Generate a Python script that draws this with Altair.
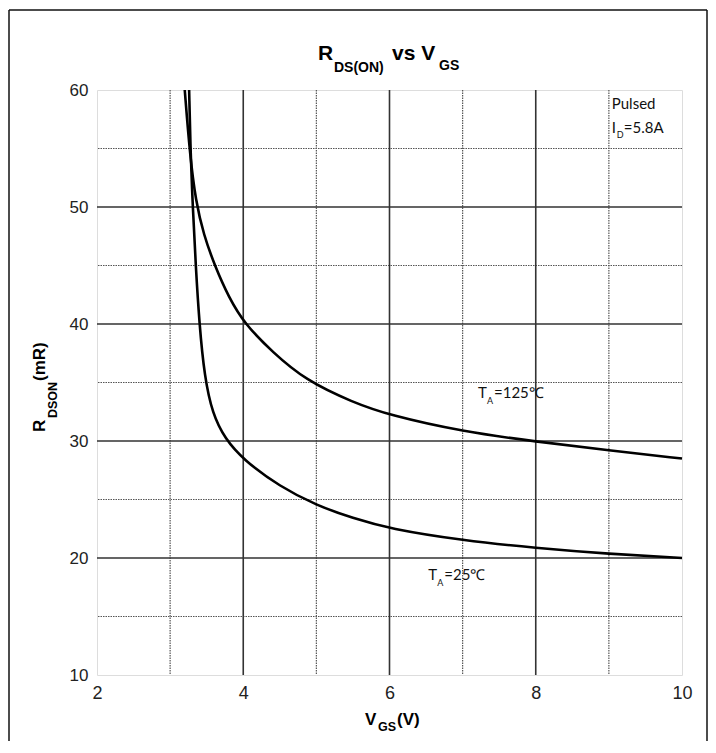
import altair as alt
import pandas as pd

# ---- data ----
vgs_25 = [3.26, 3.28, 3.31, 3.35, 3.40, 3.47, 3.58, 3.75, 4.0, 4.5, 5.0, 5.5, 6.0, 7.0, 8.0, 9.0, 10.0]
rds_25 = [60.0, 54.5, 50.0, 45.0, 40.0, 35.5, 32.3, 30.2, 28.4, 26.1, 24.5, 23.4, 22.5, 21.5, 20.85, 20.35, 20.0]

vgs_125 = [3.20, 3.27, 3.35, 3.46, 3.61, 3.80, 4.02, 4.4, 4.85, 5.5, 6.0, 7.0, 8.0, 9.0, 10.0]
rds_125 = [60.0, 54.5, 50.5, 47.6, 45.0, 42.3, 40.0, 37.6, 35.2, 33.3, 32.2, 30.8, 29.95, 29.2, 28.5]

x_ticks = [2, 4, 6, 8, 10]
y_ticks = [10, 20, 30, 40, 50, 60]
x_major_grid = [4, 6, 8]
x_minor_grid = [3, 5, 7, 9]
y_major_grid = [20, 30, 40, 50]
y_minor_grid = [15, 25, 35, 45, 55]

# annotation anchors (data coordinates)
ann_125_x, ann_125_y = 7.21, 33.68
ann_25_x, ann_25_y = 6.53, 18.12
ann_pulsed_x, ann_pulsed_y = 9.04, 58.38
ann_id_x, ann_id_y = 9.04, 56.32

W, H = 585, 585
xs = alt.Scale(domain=[2, 10], nice=False, zero=False)
ys = alt.Scale(domain=[10, 60], nice=False, zero=False)

FONT = "Liberation Sans"
ANN_FONT = "Lato"

xaxis = alt.Axis(values=x_ticks, title=None, grid=False, ticks=False, domain=False,
                 labelFontSize=18, labelFont=FONT, labelColor="#222",
                 labelPadding=9, format="d", labelFlush=False)
yaxis = alt.Axis(values=y_ticks, title=None, grid=False, ticks=False, domain=False,
                 labelFontSize=17, labelFont=FONT, labelColor="#222",
                 labelPadding=9, format="d", labelFlush=False)

curves = pd.concat([
    pd.DataFrame({"vgs": vgs_25, "rds": rds_25, "temp": "25"}),
    pd.DataFrame({"vgs": vgs_125, "rds": rds_125, "temp": "125"}),
])


def vgrid(vals, dash, width, color):
    return alt.Chart(pd.DataFrame({"v": vals})).mark_rule(strokeDash=dash, strokeWidth=width, color=color).encode(
        x=alt.X("v:Q", scale=xs, axis=xaxis))


def hgrid(vals, dash, width, color):
    return alt.Chart(pd.DataFrame({"v": vals})).mark_rule(strokeDash=dash, strokeWidth=width, color=color).encode(
        y=alt.Y("v:Q", scale=ys, axis=yaxis))


# invisible layer that carries both axes over the full domain
axes_layer = alt.Chart(pd.DataFrame({"x": [2, 10], "y": [10, 60]})).mark_point(opacity=0).encode(
    x=alt.X("x:Q", scale=xs, axis=xaxis),
    y=alt.Y("y:Q", scale=ys, axis=yaxis),
)

grid = [
    vgrid(x_minor_grid, [1.5, 1], 1.2, "#555"),
    hgrid(y_minor_grid, [1.5, 1], 1.2, "#555"),
    vgrid(x_major_grid, [1, 0], 1.6, "#333"),
    hgrid(y_major_grid, [1, 0], 1.6, "#333"),
]

lines = alt.Chart(curves).mark_line(color="black", strokeWidth=2.6, interpolate="basis").encode(
    x=alt.X("vgs:Q", scale=xs, axis=xaxis),
    y=alt.Y("rds:Q", scale=ys, axis=yaxis),
    detail="temp:N",
    order="vgs:Q",
)


def data_text(x, y, text, size, dx=0, dy=0):
    return alt.Chart(pd.DataFrame({"x": [x], "y": [y]})).mark_text(
        text=text, fontSize=size, font=ANN_FONT, color="#111", align="left", baseline="alphabetic", dx=dx, dy=dy
    ).encode(x=alt.X("x:Q", scale=xs, axis=xaxis), y=alt.Y("y:Q", scale=ys, axis=yaxis))


annotations = [
    data_text(ann_125_x, ann_125_y, "T", 15),
    data_text(ann_125_x, ann_125_y, "A", 9, dx=9, dy=6),
    data_text(ann_125_x, ann_125_y, "=125℃", 15, dx=16),
    data_text(ann_25_x, ann_25_y, "T", 15),
    data_text(ann_25_x, ann_25_y, "A", 9, dx=9, dy=6),
    data_text(ann_25_x, ann_25_y, "=25℃", 15, dx=16),
    data_text(ann_pulsed_x, ann_pulsed_y, "Pulsed", 15),
    data_text(ann_id_x, ann_id_y, "I", 15),
    data_text(ann_id_x, ann_id_y, "D", 9, dx=5, dy=5),
    data_text(ann_id_x, ann_id_y, "=5.8A", 15, dx=12),
]


def px_text(text, x, y, size, angle=0, color="black"):
    return alt.Chart(pd.DataFrame({"k": [0]})).mark_text(
        text=text, fontSize=size, font=FONT, fontWeight="bold", color=color,
        align="left", baseline="alphabetic", angle=angle
    ).encode(x=alt.value(x), y=alt.value(y))


titles = [
    # chart title  R_DS(ON) vs V_GS
    px_text("R", 221, -30, 21),
    px_text("DS(ON)", 237, -18, 14),
    px_text("vs V", 295, -30, 21),
    px_text("GS", 342, -20, 14),
    # x title  V_GS(V)
    px_text("V", 268, 635, 17),
    px_text("GS", 281, 641, 12.5),
    px_text("(V)", 300, 635, 17),
    # y title  R_DSON(mR)
    px_text("R", -52, 342, 17, angle=270),
    px_text("DSON", -40, 328, 12.5, angle=270),
    px_text("(mR)", -52, 291, 17, angle=270),
]


def frame_rule(**enc):
    return alt.Chart(pd.DataFrame({"k": [0]})).mark_rule(color="#111", strokeWidth=1.5).encode(**enc)


frame = [
    frame_rule(x=alt.value(-88), y=alt.value(-80), y2=alt.value(660)),
    frame_rule(x=alt.value(610), y=alt.value(-80), y2=alt.value(660)),
    frame_rule(x=alt.value(-88), x2=alt.value(610), y=alt.value(-80)),
]

chart = alt.layer(axes_layer, *grid, lines, *annotations, *titles, *frame).properties(
    width=W, height=H,
    autosize=alt.AutoSizeParams(type="none"),
    padding={"left": 89, "top": 82, "right": 26, "bottom": 66},
).configure_view(stroke="#333", strokeWidth=2).configure(background="white")

chart.save("out.html", embed_options={"renderer": "svg", "actions": False})
